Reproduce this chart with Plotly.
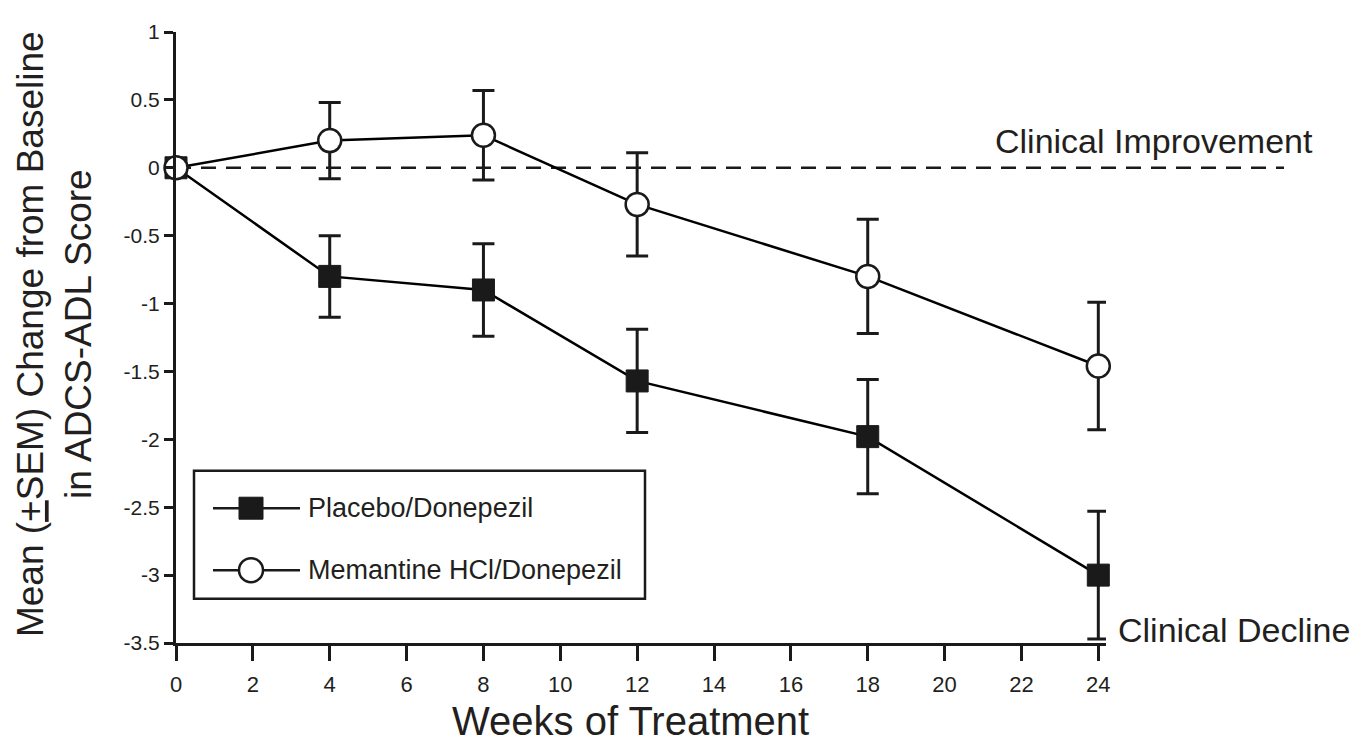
import plotly.graph_objects as go

weeks = [0, 4, 8, 12, 18, 24]
placebo_mean = [0, -0.80, -0.90, -1.57, -1.98, -3.00]
placebo_sem = [0, 0.30, 0.34, 0.38, 0.42, 0.47]
memantine_mean = [0, 0.20, 0.24, -0.27, -0.80, -1.46]
memantine_sem = [0, 0.28, 0.33, 0.38, 0.42, 0.47]
series_names = ["Placebo/Donepezil", "Memantine HCl/Donepezil"]
x_ticks = list(range(0, 25, 2))
y_ticks = [1, 0.5, 0, -0.5, -1, -1.5, -2, -2.5, -3, -3.5]
y_tick_text = ["1", "0.5", "0", "-0.5", "-1", "-1.5", "-2", "-2.5", "-3", "-3.5"]

Y_MIN, Y_MAX = -3.5, 1.0
X_MIN, X_MAX = 0, 24.2
FONT = "Liberation Sans, Arial, sans-serif"
INK = "#231f20"
DARK = "#1a1a1a"

# page-pixel -> paper helpers (plot area spans 176..1106 x, 22..643 y on the page)
def px2x(p):
    return (p - 176) / 930.0

def py2y(p):
    return (643 - p) / 621.0

fig = go.Figure()
fig.add_trace(go.Scatter(
    x=weeks, y=placebo_mean, name=series_names[0],
    mode="lines+markers", cliponaxis=False, showlegend=False,
    line=dict(color="black", width=2.5),
    marker=dict(symbol="square", size=22, color=DARK, line=dict(color=DARK, width=1)),
    error_y=dict(type="data", array=placebo_sem, color=DARK, thickness=3, width=11),
))
fig.add_trace(go.Scatter(
    x=weeks, y=memantine_mean, name=series_names[1],
    mode="lines+markers", cliponaxis=False, showlegend=False,
    line=dict(color="black", width=2.5),
    marker=dict(symbol="circle", size=23, color="white", line=dict(color=DARK, width=2.5)),
    error_y=dict(type="data", array=memantine_sem, color=DARK, thickness=3, width=11),
))

zero_paper = (0 - Y_MIN) / (Y_MAX - Y_MIN)
fig.add_shape(type="line", xref="paper", yref="paper", x0=0, x1=px2x(1284),
              y0=zero_paper, y1=zero_paper,
              line=dict(color=DARK, width=2.5, dash="15px,10px"), layer="below")

# legend frame and keys
fig.add_shape(type="rect", xref="paper", yref="paper", x0=px2x(194), x1=px2x(645),
              y0=py2y(598), y1=py2y(468), line=dict(color=DARK, width=2.5),
              fillcolor="rgba(0,0,0,0)")
rows = [506, 569]
for i, ry in enumerate(rows):
    fig.add_shape(type="line", xref="paper", yref="paper", x0=px2x(213), x1=px2x(300),
                  y0=py2y(ry), y1=py2y(ry), line=dict(color=DARK, width=2.5))
    if i == 0:
        fig.add_shape(type="rect", xref="paper", yref="paper", xsizemode="pixel",
                      ysizemode="pixel", xanchor=px2x(251), yanchor=py2y(ry),
                      x0=-12, x1=12, y0=-11, y1=11, fillcolor=DARK,
                      line=dict(color=DARK, width=1))
    else:
        fig.add_shape(type="circle", xref="paper", yref="paper", xsizemode="pixel",
                      ysizemode="pixel", xanchor=px2x(251), yanchor=py2y(ry),
                      x0=-12, x1=12, y0=-12, y1=12, fillcolor="white",
                      line=dict(color=DARK, width=2.5))
    fig.add_annotation(text=series_names[i], xref="paper", yref="paper",
                       x=px2x(306), y=py2y(ry), xanchor="left", yanchor="middle",
                       showarrow=False, font=dict(size=27, color=INK, family=FONT))

fig.add_annotation(text="Clinical Improvement", xref="paper", yref="paper",
                   x=px2x(993), y=py2y(133), xanchor="left", yanchor="middle", showarrow=False,
                   font=dict(size=34, color=INK, family=FONT))
fig.add_annotation(text="Clinical Decline", xref="paper", yref="paper",
                   x=px2x(1116), y=py2y(630), xanchor="left", yanchor="middle", showarrow=False,
                   font=dict(size=34, color=INK, family=FONT))
fig.add_annotation(text="Mean (<u>+</u>SEM) Change from Baseline<br>in ADCS-ADL Score",
                   xref="paper", yref="paper", x=px2x(54), y=py2y(329), textangle=-90,
                   xanchor="center", yanchor="middle", showarrow=False,
                   font=dict(size=37, color=INK, family=FONT))
fig.add_annotation(text="Weeks of Treatment", xref="paper", yref="paper",
                   x=px2x(630), y=py2y(722), xanchor="center", yanchor="middle", showarrow=False,
                   font=dict(size=40, color=INK, family=FONT))

fig.update_layout(
    width=1359, height=746,
    margin=dict(l=168, r=261, t=14, b=111),
    paper_bgcolor="white", plot_bgcolor="white",
    showlegend=False,
    xaxis=dict(range=[X_MIN, X_MAX], tickvals=x_ticks, showline=True, linecolor=DARK,
               linewidth=3, ticks="outside", ticklen=15, tickwidth=3, tickcolor=DARK,
               showgrid=False, zeroline=False, ticklabelstandoff=5,
               tickfont=dict(size=22, color=INK, family=FONT)),
    yaxis=dict(range=[Y_MIN, Y_MAX], tickvals=y_ticks, ticktext=y_tick_text, showline=True,
               linecolor=DARK, linewidth=3, ticks="outside", ticklen=9, tickwidth=3,
               tickcolor=DARK, showgrid=False, zeroline=False,
               tickfont=dict(size=21, color=INK, family=FONT)),
)

fig.write_html("out.html")
